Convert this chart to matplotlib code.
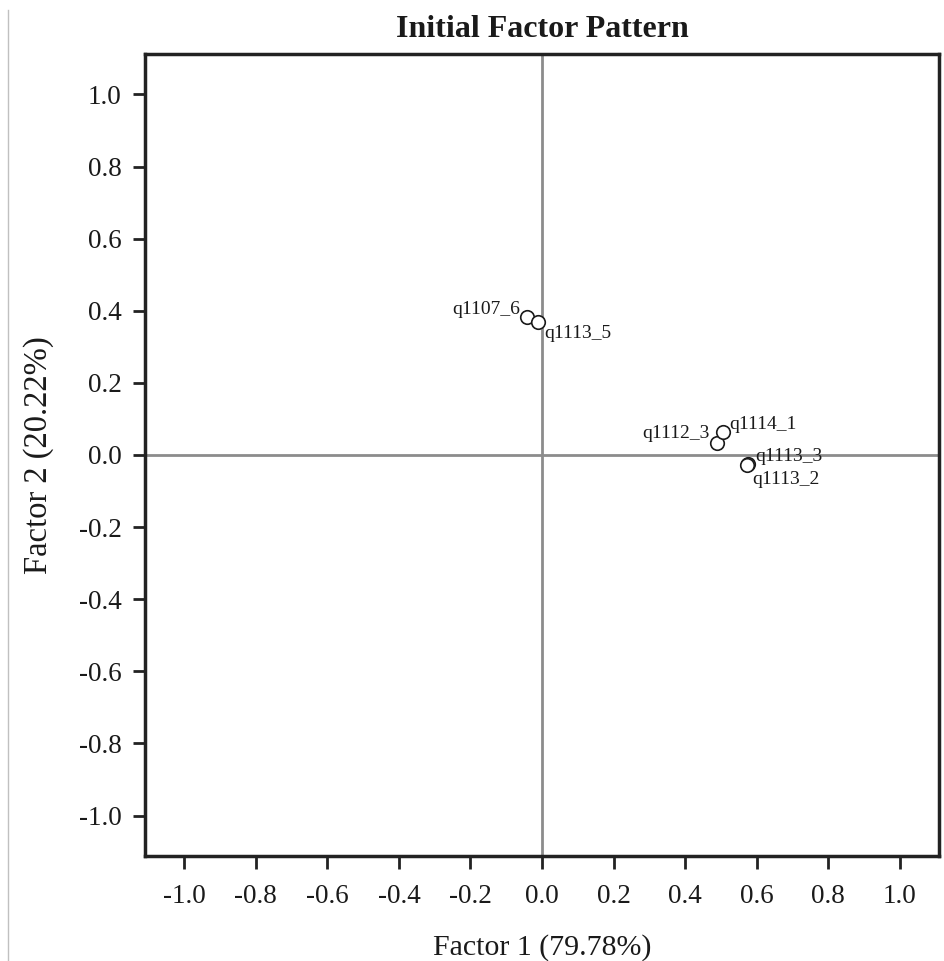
import matplotlib
matplotlib.use('Agg')
import matplotlib.pyplot as plt
from matplotlib.lines import Line2D

# factor loadings on the first two factors
variables = ['q1107_6', 'q1113_5', 'q1112_3', 'q1114_1', 'q1113_3', 'q1113_2']
factor1 = [-0.043, -0.012, 0.488, 0.505, 0.575, 0.572]
factor2 = [0.384, 0.370, 0.034, 0.063, -0.025, -0.029]
ticks = [-1.0, -0.8, -0.6, -0.4, -0.2, 0.0, 0.2, 0.4, 0.6, 0.8, 1.0]

# label placement: (dx px, dy px, ha) relative to the point, baseline aligned
label_pos = {
    'q1107_6': (-6, 3, 'right'),
    'q1113_5': (7, -16, 'left'),
    'q1112_3': (-7, 5, 'right'),
    'q1114_1': (7, 3, 'left'),
    'q1113_3': (8, 3, 'left'),
    'q1113_2': (6, -19, 'left'),
}

plt.rcParams['font.family'] = ['Liberation Serif', 'DejaVu Serif']

fig = plt.figure(figsize=(9.44, 9.61), dpi=100)
ax = fig.add_axes([145 / 944, 105 / 961, 794 / 944, 802 / 961])

ax.axhline(0, color='#8c8c8c', lw=2, zorder=1)
ax.axvline(0, color='#8c8c8c', lw=2, zorder=1)

ax.scatter(factor1, factor2, s=95, facecolors='white', edgecolors='#1a1a1a',
           linewidths=1.2, zorder=3)

px = 0.72  # points per pixel at dpi 100
for name, x, y in zip(variables, factor1, factor2):
    dx, dy, ha = label_pos[name]
    ax.annotate(name, (x, y), xytext=(dx * px, dy * px), textcoords='offset points',
                ha=ha, va='baseline', fontsize=14, color='#1a1a1a', zorder=4)

ax.set_xlim(-1.11, 1.11)
ax.set_ylim(-1.112, 1.112)
ax.set_xticks(ticks)
ax.set_yticks(ticks)
ax.set_xticklabels([f'{t:.1f}' for t in ticks])
ax.set_yticklabels([f'{t:.1f}' for t in ticks])
ax.tick_params(direction='out', length=9, width=2, color='#222222',
               labelsize=19.5, labelcolor='#1a1a1a')
ax.tick_params(axis='x', pad=11)
ax.tick_params(axis='y', pad=8)
for sp in ax.spines.values():
    sp.set_linewidth(2.5)
    sp.set_color('#222222')

ax.set_title('Initial Factor Pattern', fontsize=23, fontweight='bold',
             color='#1a1a1a', pad=12)
ax.set_xlabel('Factor 1 (79.78%)', fontsize=21.5, color='#1a1a1a', labelpad=18)
ax.set_ylabel('Factor 2 (20.22%)', fontsize=23.5, color='#1a1a1a', labelpad=18)

# thin rule along the left edge
fig.add_artist(Line2D([8 / 944, 8 / 944], [0, 1 - 10 / 961],
                      transform=fig.transFigure, color='#c0c0c0', lw=1))

fig.savefig('out.png', dpi=100, facecolor='white')
